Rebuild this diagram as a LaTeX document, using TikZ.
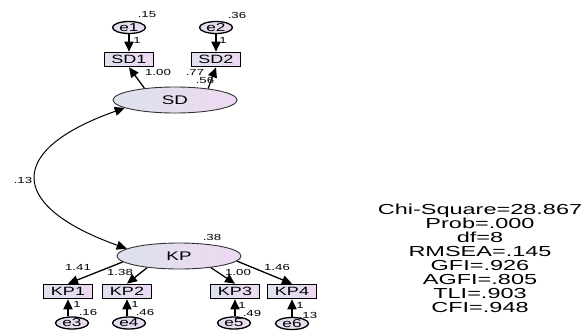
\documentclass[tikz,border=0pt]{standalone}
\usepackage{fontspec}
\newfontfamily\amosfont{Liberation Sans}[FakeStretch=1.5]
\newfontfamily\amosfitfont{Liberation Sans}[FakeStretch=1.62]
\usetikzlibrary{arrows.meta,positioning,shapes.geometric}
\definecolor{amosLeft}{HTML}{DDE1EE}
\definecolor{amosRight}{HTML}{EDD9F1}
\definecolor{amosLine}{HTML}{333333}
\tikzset{
  >={Triangle[length=10pt,width=9pt]},
  latent/.style={ellipse, draw=amosLine, line width=0.9pt, left color=amosLeft, right color=amosRight,
              minimum width=124pt, minimum height=26pt, inner sep=0pt, font=\amosfont\fontsize{12.5}{13}\selectfont},
  obs/.style={rectangle, draw=black, line width=1.6pt, left color=amosLeft, right color=amosRight,
              minimum width=49pt, minimum height=14pt, inner sep=0pt, font=\amosfont\fontsize{12}{13}\selectfont},
  err/.style={ellipse, draw=black, line width=1.3pt, left color=amosLeft, right color=amosRight,
              minimum width=33pt, minimum height=12pt, inner sep=0pt, font=\amosfont\fontsize{11.5}{12}\selectfont},
  est/.style={font=\amosfont\fontsize{8.8}{9}\selectfont, inner sep=0pt},
  fitstat/.style={font=\amosfitfont\fontsize{14.5}{13.9}\selectfont, align=center, inner sep=0pt},
  regpath/.style={->, line width=1.3pt},
  errpath/.style={->, line width=1.8pt},
  cov/.style={<->, line width=1pt},
}
\begin{document}
\begin{tikzpicture}[x=1pt,y=-1pt]
        \useasboundingbox (0,0) rectangle (584,330);
        % latent factors
        \node[latent] (sd) at (175,100){SD};
        \node[latent] (kp) at (179,256){KP};
        % indicators
        \node[obs] (sd1) at (129,59.5){SD1};
        \node[obs] (sd2) at (216,59.5){SD2};
        \node[obs] (kp1) at (68,291.5){KP1};
        \node[obs] (kp2) at (127,291.5){KP2};
        \node[obs] (kp3) at (235,291.5){KP3};
        \node[obs] (kp4) at (292,291.5){KP4};
        % errors
        \node[err] (e1) at (129,27.5){e1};
        \node[err] (e2) at (216,27.5){e2};
        \node[err] (e3) at (72,323){e3};
        \node[err] (e4) at (129,323){e4};
        \node[err] (e5) at (234,323){e5};
        \node[err] (e6) at (292,323.5){e6};
        % paths
        \draw[errpath](e1)--(sd1);\draw[errpath](e2)--(sd2);
        \draw[regpath](sd.159)--(sd1.south);\draw[regpath](sd.19)--(sd2.south);
        \draw[regpath](kp.186)--(kp1.north);\draw[regpath](kp.200)--(kp2.north);
        \draw[regpath](kp.340)--(kp3.north);\draw[regpath](kp.355)--(kp4.north);
        \draw[errpath](e3.north -| kp1.south)--(kp1.south);\draw[errpath](e4.north -| kp2.south)--(kp2.south);
        \draw[errpath](e5.north -| kp3.south)--(kp3.south);\draw[errpath](e6.north -| kp4.south)--(kp4.south);
        \draw[cov](sd.189) .. controls (8,149) and (5,205) .. (kp.172);
        % estimates
        \node[est] (v1) at (147,15){.15};
        \node[est] (v2) at (237,15){.36};
        \node[est] (w1) at (137,40){1};
        \node[est] (w2) at (223,40){1};
        \node[est] (l1) at (158,72){1.00};
        \node[est] (l2) at (195,72){.77};
        \node[est] (r2) at (205,80){.56};
        \node[est] (c1) at (23,180){.13};
        \node[est] (r5) at (212,237){.38};
        \node[est] (l3) at (78,267){1.41};
        \node[est] (l4) at (120,272){1.38};
        \node[est] (l5) at (238,272){1.00};
        \node[est] (l6) at (277,267){1.46};
        \node[est] (w3) at (77,304){1};
        \node[est] (w4) at (135,304){1};
        \node[est] (w5) at (242,305){1};
        \node[est] (w6) at (300,305){1};
        \node[est] (v3) at (88,312){.16};
        \node[est] (v4) at (145,312){.46};
        \node[est] (v5) at (252,313){.49};
        \node[est] (v6) at (308,315){.13};
        % fit indices (base = last line)
        \node[fitstat,anchor=base] (fitbox) at (480,312){Chi-Square=28.867\\Prob=.000\\df=8\\RMSEA=.145\\GFI=.926\\AGFI=.805\\TLI=.903\\CFI=.948};
      \end{tikzpicture}
\end{document}
